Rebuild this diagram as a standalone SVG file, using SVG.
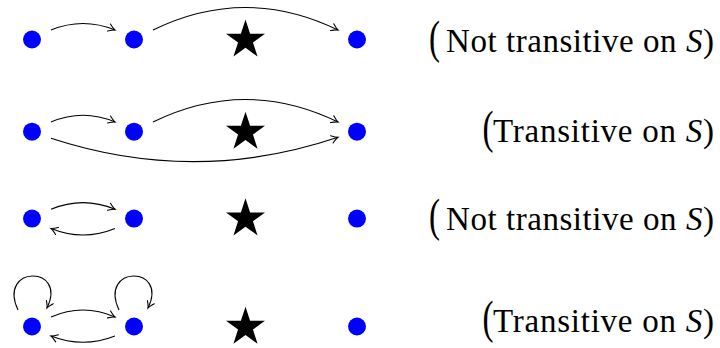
<svg xmlns="http://www.w3.org/2000/svg" width="720" height="348" viewBox="0 0 720 348">
<style>
.dot{fill:#0000ff}
.star{fill:#000}
.edge{fill:none;stroke:#000;stroke-width:1.1;marker-end:url(#arr)}
.lbl{font-family:"Liberation Serif","Times New Roman",serif;font-size:33px;fill:#000}
.it{font-style:italic}
</style>
<defs>
<marker id="arr" markerUnits="userSpaceOnUse" markerWidth="12" markerHeight="12" refX="0" refY="0" viewBox="-8 -6 10 12" orient="auto">
<path d="M-6.5,-3.8 Q-2,-0.6 0,0 Q-2,0.6 -6.5,3.8" fill="none" stroke="#000" stroke-width="1.1" stroke-linecap="round"/>
</marker>
<polygon id="starshape" points="0,-20.5 4.6,-6.33 19.5,-6.33 7.45,2.42 12.05,16.58 0,7.83 -12.05,16.58 -7.45,2.42 -19.5,-6.33 -4.6,-6.33"/>
</defs>
<rect width="720" height="348" fill="#fff"/>

<g id="connectors">
<path class="edge" d="M51,30 Q83,17 115,30"/>
<path class="edge" d="M153,30 Q245.5,-15 338,30"/>
<path class="edge" d="M51,122 Q83,108.5 115,122"/>
<path class="edge" d="M153,122 Q245.5,77 338,122"/>
<path class="edge" d="M51,138.3 Q195,185.5 338,137.3"/>
<path class="edge" d="M51,209.3 Q83,196 115,209.3"/>
<path class="edge" d="M115,228.5 Q83,241.5 51,228.5"/>
<path class="edge" d="M51,317 Q83,303 115,317"/>
<path class="edge" d="M115,336 Q83,348.5 51,336"/>
<path class="edge" d="M18,310 C-3,265 68,265 47,308"/>
<path class="edge" d="M119,310 C98,265 169,265 148,308"/>
</g>

<g id="row1">
<circle id="r1a" class="dot" cx="32" cy="39.5" r="9"/>
<circle id="r1b" class="dot" cx="134" cy="39.5" r="9"/>
<use id="r1star" class="star" href="#starshape" x="245.5" y="40"/>
<circle id="r1c" class="dot" cx="357" cy="39.5" r="9"/>
<g id="r1label">
<text class="lbl" transform="translate(429,53.4) scale(1,1.42)">(</text>
<text class="lbl" x="446" y="52.3" textLength="268" lengthAdjust="spacing">Not transitive on <tspan class="it">S</tspan>)</text>
</g>
</g>

<g id="row2">
<circle id="r2a" class="dot" cx="32" cy="131.7" r="9"/>
<circle id="r2b" class="dot" cx="134" cy="131.7" r="9"/>
<use id="r2star" class="star" href="#starshape" x="245.5" y="132.2"/>
<circle id="r2c" class="dot" cx="357" cy="131.7" r="9"/>
<g id="r2label">
<text class="lbl" transform="translate(482.5,143.4) scale(1,1.42)">(</text>
<text class="lbl" x="493" y="142.3" textLength="221" lengthAdjust="spacing">Transitive on <tspan class="it">S</tspan>)</text>
</g>
</g>

<g id="row3">
<circle id="r3a" class="dot" cx="32" cy="218.6" r="9"/>
<circle id="r3b" class="dot" cx="134" cy="218.6" r="9"/>
<use id="r3star" class="star" href="#starshape" x="245.5" y="218.8"/>
<circle id="r3c" class="dot" cx="357" cy="218.6" r="9"/>
<g id="r3label">
<text class="lbl" transform="translate(429,230.5) scale(1,1.42)">(</text>
<text class="lbl" x="446" y="230" textLength="268" lengthAdjust="spacing">Not transitive on <tspan class="it">S</tspan>)</text>
</g>
</g>

<g id="row4">
<circle id="r4a" class="dot" cx="32" cy="326.5" r="9"/>
<circle id="r4b" class="dot" cx="134" cy="326.5" r="9"/>
<use id="r4star" class="star" href="#starshape" x="245.5" y="327.2"/>
<circle id="r4c" class="dot" cx="357" cy="326.5" r="9"/>
<g id="r4label">
<text class="lbl" transform="translate(482.5,333.4) scale(1,1.42)">(</text>
<text class="lbl" x="493" y="332.3" textLength="221" lengthAdjust="spacing">Transitive on <tspan class="it">S</tspan>)</text>
</g>
</g>
</svg>
